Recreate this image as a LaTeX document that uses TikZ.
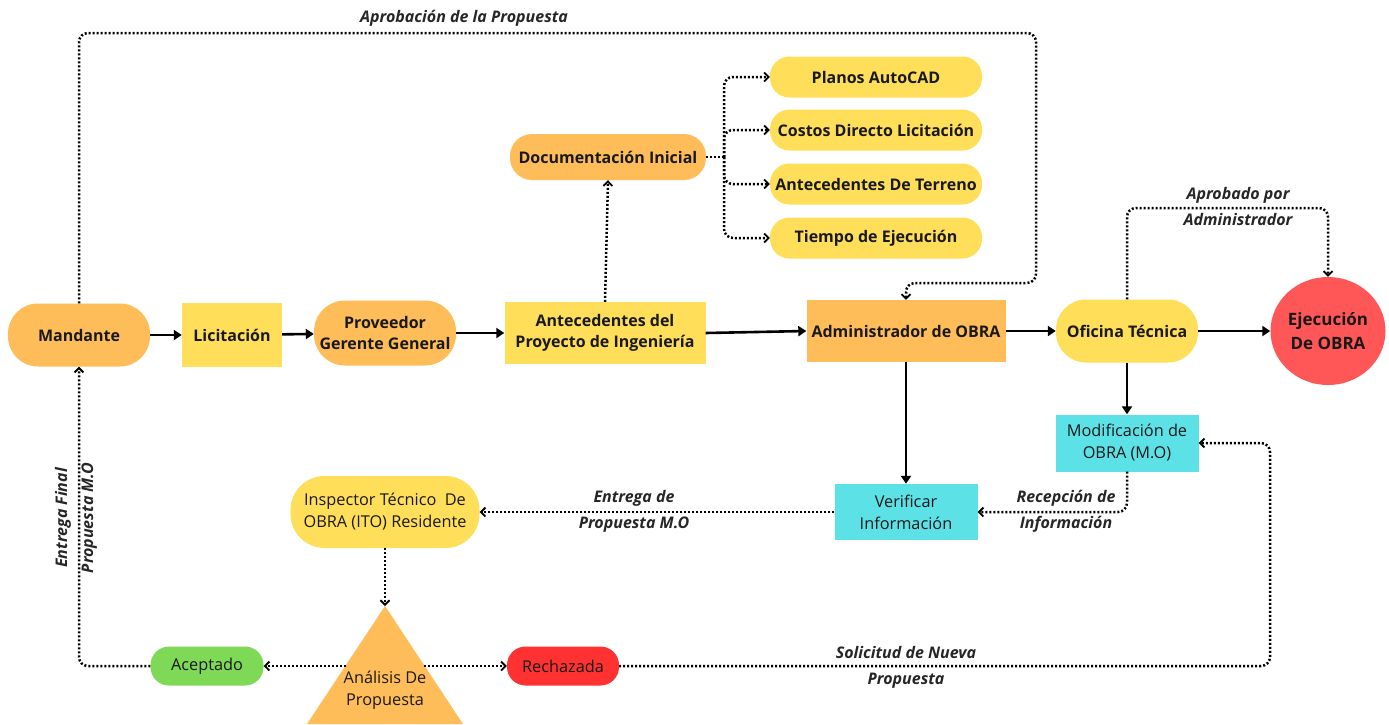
\documentclass[tikz,border=0pt]{standalone}
\usepackage{fontspec}
\setmainfont{Open Sans}
\usetikzlibrary{arrows.meta,shapes.geometric}
\definecolor{orangeC}{HTML}{FFBD59}
\definecolor{yellowC}{HTML}{FFDE59}
\definecolor{cyanC}{HTML}{5CE1E6}
\definecolor{redC}{HTML}{FF5757}
\definecolor{greenC}{HTML}{7ED957}
\definecolor{redD}{HTML}{FF3131}
\tikzset{
  nd/.style={align=center, inner sep=0pt, text=black!90, font=\fontsize{16.3}{22}\selectfont},
  bnd/.style={nd, font=\bfseries\fontsize{16}{21}\selectfont},
  solidarrow/.style={line width=2.6pt, -{Triangle[length=8pt,width=10pt]}},
  dotline/.style={line width=2.5pt, dash pattern=on 2pt off 2pt, rounded corners=9pt},
  dotarrow/.style={dotline, -{Straight Barb[length=4.5pt,width=9pt,line width=1.8pt]}},
  lbl/.style={align=center, inner sep=0pt, text=black!85, font=\bfseries\itshape\fontsize{16}{26}\selectfont},
}
\begin{document}
\begin{tikzpicture}[x=1pt,y=-1pt]
\useasboundingbox (0,0) rectangle (1389,724);
\clip (0,0) rectangle (1389,724);
\fill[white] (0,0) rectangle (1389,724);

% main row
\node[bnd, fill=orangeC, minimum width=142, minimum height=63, rounded corners=30] (mand) at (79,335) {Mandante};
\node[bnd, fill=yellowC, minimum width=100, minimum height=64] (lic) at (232,335) {Licitación};
\node[bnd, fill=orangeC, minimum width=142, minimum height=65, rounded corners=31] (prov) at (385,333) {Proveedor\\Gerente General};
\node[bnd, fill=yellowC, minimum width=201, minimum height=62] (ante) at (605,333) {Antecedentes del\\Proyecto de Ingeniería};
\node[bnd, fill=orangeC, minimum width=199, minimum height=62] (adm) at (906,331) {Administrador de OBRA};
\node[bnd, fill=yellowC, minimum width=142, minimum height=63, rounded corners=30] (ofi) at (1127,331) {Oficina Técnica};
\node[bnd, fill=redC, ellipse, minimum width=115, minimum height=108, font=\bfseries\fontsize{17}{24}\selectfont] (eje) at (1328,331) {Ejecución\\De OBRA};

% documentation
\node[bnd, fill=orangeC, minimum width=196, minimum height=46, rounded corners=22] (doc) at (608,157) {Documentación Inicial};
\node[bnd, fill=yellowC, minimum width=212, minimum height=41, rounded corners=19.5] (p1) at (876,77) {Planos AutoCAD};
\node[bnd, fill=yellowC, minimum width=212, minimum height=41, rounded corners=19.5] (p2) at (876,130) {Costos Directo Licitación};
\node[bnd, fill=yellowC, minimum width=212, minimum height=41, rounded corners=19.5] (p3) at (876,184) {Antecedentes De Terreno};
\node[bnd, fill=yellowC, minimum width=212, minimum height=41, rounded corners=19.5] (p4) at (876,238) {Tiempo de Ejecución};

% lower part
\node[nd, fill=cyanC, minimum width=143, minimum height=57] (mod) at (1127,443) {Modificación de\\OBRA (M.O)};
\node[nd, fill=cyanC, minimum width=143, minimum height=56] (ver) at (906,512) {Verificar\\Información};
\node[nd, fill=yellowC, minimum width=189, minimum height=72, rounded corners=34] (ito) at (385,512) {Inspector Técnico~ De\\OBRA (ITO) Residente};
\fill[orangeC] (385,606) -- (385+118*0.661,724+0) -- (385-118*0.661,724) -- cycle;
\coordinate (apex) at (385,606);
\coordinate (tl) at (346,666);
\coordinate (tr) at (424,666);
\node[nd] (ana) at (385,690) {Análisis De\\Propuesta};
\node[nd, fill=greenC, minimum width=113, minimum height=39, rounded corners=18.5] (acep) at (207,666) {Aceptado};
\node[nd, fill=redD, minimum width=112, minimum height=39, rounded corners=18.5] (rech) at (563,666) {Rechazada};

% solid arrows
\draw[solidarrow] (mand) -- (lic);
\draw[solidarrow] (lic) -- (prov);
\draw[solidarrow] (prov) -- (ante);
\draw[solidarrow] (ante.east) -- (adm.west);
\draw[solidarrow] (adm) -- (ofi);
\draw[solidarrow] (ofi) -- (eje);
\draw[solidarrow] (adm.south) -- (ver.north);
\draw[solidarrow] (ofi.south) -- (mod.north);

% dotted connectors
\coordinate (c1) at (1036,33);
\coordinate (c2) at (1036,283);
\draw[dotarrow] (mand.north) |- (c1) -- (c2) -| (adm.north);
\node[lbl] at (464,18) {Aprobación de la Propuesta};

\draw[dotarrow] (ante.north) -- (doc.south);
\coordinate (dj) at (724,157);
\draw[dotline] (doc.east) -- (dj);
\draw[dotarrow] (dj) |- (p1.west);
\draw[dotarrow] (dj) |- (p2.west);
\draw[dotarrow] (dj) |- (p3.west);
\draw[dotarrow] (dj) |- (p4.west);

\coordinate (c3) at (1328,208);
\draw[dotarrow] (ofi.north) |- (c3) -- (eje.north);
\node[lbl] at (1238,206) {Aprobado por\\Administrador};

\draw[dotarrow] (mod.south) |- (ver.east);
\node[lbl] at (1066,511) {Recepción de\\Información};

\draw[dotarrow] (ver.west) -- (ito.east);
\node[lbl] at (634,511) {Entrega de\\Propuesta M.O};

\draw[dotarrow] (ito.south) -- (apex);
\draw[dotarrow] (tl) -- (acep.east);
\draw[dotarrow] (tr) -- (rech.west);

\coordinate (c4) at (1270,666);
\draw[dotarrow] (rech.east) -- (c4) |- (mod.east);
\node[lbl] at (906,667) {Solicitud de Nueva\\Propuesta};

\draw[dotarrow] (acep.west) -| (mand.south);
\node[lbl, rotate=90] at (76,518) {Entrega Final\\Propuesta M.O};
\end{tikzpicture}
\end{document}
